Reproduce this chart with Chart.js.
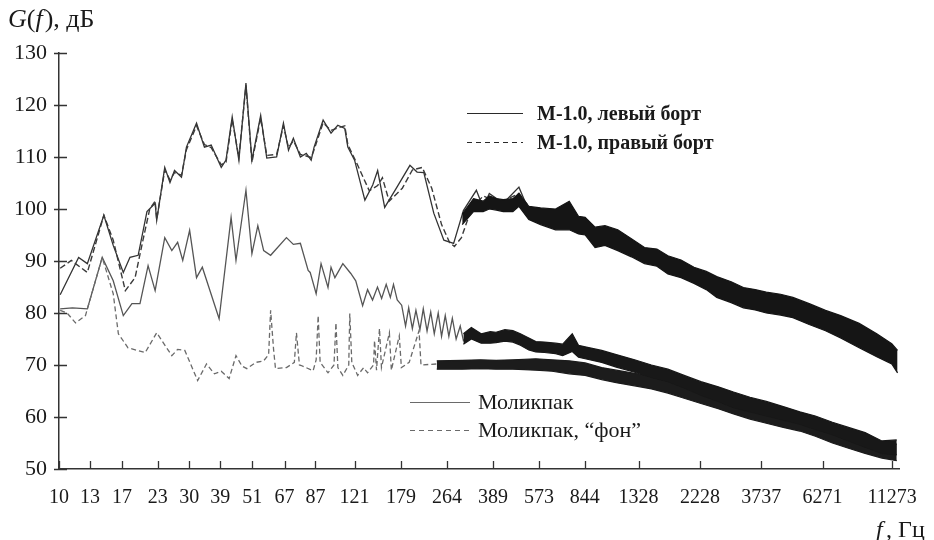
<!DOCTYPE html>
<html>
<head>
<meta charset="utf-8">
<script src="https://cdn.jsdelivr.net/npm/chart.js@4.4.0/dist/chart.umd.min.js"></script>
<style>
  html, body { margin: 0; padding: 0; background: #fff; }
  #wrap { width: 934px; height: 540px; }
</style>
</head>
<body>
<div id="wrap"><canvas id="spectrum" width="934" height="540"></canvas></div>
<script>
    // Frequency ticks (Hz) and level ticks (dB)
    const xTickValues = [10, 13, 17, 23, 30, 39, 51, 67, 87, 121, 179, 264, 389, 573, 844, 1328, 2228, 3737, 6271, 11273];
    const yTickValues = [50, 60, 70, 80, 90, 100, 110, 120, 130];

    // М-1.0, левый борт (low frequency part)
    const m10LeftFreq = [10.1, 11.8, 12.7, 14.6, 15.8, 17.2, 18.2, 19.5, 21.0, 22.5, 22.8, 24.4, 25.5, 26.5, 28.1, 29.3, 31.9, 34.1, 36.1, 39.3,
        40.9, 43.1, 45.6, 48.4, 50.9, 54.8, 57.7, 62.7, 66.4, 69.3, 72.2, 76.6, 80.5, 83.9, 86.0, 92.8, 99.2, 105, 111.4, 114.3,
        121, 132, 141, 147, 156, 173, 193, 205, 217, 236, 257, 279, 303, 338, 358, 377, 424, 484, 526, 581];
    const m10LeftDb = [83.5, 90.7, 89.5, 98.8, 93.0, 87.8, 90.7, 91.1, 99.5, 101.1, 97.8, 108.0, 105.1, 107.4, 106.1, 111.9, 116.5, 111.9, 112.3, 108.0,
        109.4, 117.7, 109.4, 124.2, 109.4, 118.0, 109.8, 110.0, 116.5, 111.3, 113.6, 110.0, 110.7, 109.4, 111.9, 117.1, 114.6, 116.1, 115.5, 111.9,
        109.4, 101.7, 104.6, 107.4, 100.3, 104.2, 108.4, 107.1, 107.0, 99.2, 94.0, 93.4, 99.7, 103.6, 100.3, 103.0, 101.1, 104.2, 99.7, 99.3];

    // М-1.0, правый борт (low frequency part)
    const m10RightFreq = [10.1, 11.1, 12.7, 14.6, 15.8, 17.5, 19.0, 20.3, 21.5, 22.5, 22.8, 24.4, 25.5, 26.5, 28.1, 29.3, 31.9, 34.1, 36.1, 39.3,
        40.9, 43.1, 45.6, 48.4, 50.9, 54.8, 57.7, 62.7, 66.4, 69.3, 72.2, 76.6, 80.5, 83.9, 86.0, 92.8, 99.2, 105, 111.4, 114.3,
        124, 137, 147, 153, 162, 181, 197, 214, 232, 252, 270, 281, 298, 324, 358, 377, 424, 484, 526, 581];
    const m10RightDb = [88.6, 90.1, 87.8, 98.8, 94.0, 84.3, 86.8, 94.0, 100.0, 101.5, 98.0, 107.5, 105.6, 107.0, 106.5, 111.4, 116.0, 112.4, 111.8, 108.5,
        109.0, 117.2, 109.9, 123.8, 109.0, 117.5, 110.3, 110.5, 116.0, 111.8, 113.1, 110.5, 110.2, 109.9, 111.4, 116.6, 115.1, 115.6, 116.0, 112.4,
        108.5, 103.5, 104.5, 106.0, 101.5, 104.0, 107.5, 108.0, 104.0, 97.0, 93.5, 92.8, 94.5, 100.0, 102.5, 102.0, 101.5, 103.0, 100.5, 99.8];

    // М-1.0 above ~300 Hz: noisy band (upper / lower edge)
    const m10BandFreq = [300, 330, 358, 377, 400, 424, 460, 484, 526, 581, 659, 740, 800, 846, 920, 1000, 1114, 1250, 1396, 1550,
        1700, 1900, 2119, 2350, 2568, 2900, 3215, 3550, 3900, 4400, 4880, 5600, 6427, 7300, 8535, 9900, 11236, 11800];
    const m10BandTop = [99.0, 102.0, 101.5, 102.5, 102.0, 101.8, 102.0, 103.0, 100.5, 100.2, 100.0, 101.5, 98.6, 98.4, 96.5, 96.8, 96.0, 94.3, 92.6, 92.3,
        91.0, 90.2, 88.8, 88.0, 87.0, 86.0, 84.9, 84.5, 84.0, 83.6, 83.0, 81.8, 80.5, 79.5, 78.0, 76.0, 74.1, 72.8];
    const m10BandLow = [97.0, 99.5, 99.5, 100.0, 99.8, 99.5, 99.5, 100.5, 98.0, 97.0, 96.0, 96.0, 95.2, 95.0, 92.6, 93.0, 92.0, 90.8, 89.5, 89.0,
        87.5, 86.8, 85.7, 84.5, 83.0, 82.0, 81.0, 80.6, 80.0, 79.6, 79.1, 77.8, 76.6, 75.2, 73.3, 71.6, 70.2, 68.5];

    // Моликпак
    const molFreq = [10.1, 11.2, 12.7, 14.4, 15.8, 17.2, 18.5, 19.8, 21.2, 22.5, 24.4, 25.9, 27.2, 28.4, 30.1, 31.9, 33.5, 38.6, 42.7, 44.5,
        48.4, 50.9, 53.5, 56.2, 59.6, 68.1, 72.2, 76.6, 81.8, 83.2, 87.5, 91.2, 96.7, 99.2, 102.5, 109.6, 117.2, 122.2, 129.5, 135,
        140.8, 146.8, 152, 158, 163.6, 168, 173.4, 180, 186, 191, 197, 203, 210, 216, 223, 230, 237, 245, 252, 260,
        268, 276, 285, 295, 303, 324];
    const molDb = [80.8, 81.0, 80.8, 90.7, 86.2, 79.5, 81.8, 81.8, 89.1, 84.3, 94.5, 92.0, 93.6, 90.1, 95.9, 86.8, 88.8, 78.9, 98.4, 90.1,
        103.6, 91.4, 96.8, 92.0, 91.1, 94.5, 93.2, 93.4, 88.2, 87.8, 83.7, 89.5, 84.9, 88.8, 86.8, 89.5, 87.6, 86.2, 81.4, 84.5,
        82.5, 85.0, 82.8, 85.5, 83.0, 85.5, 82.5, 81.5, 77.5, 81.0, 77.0, 80.5, 76.8, 80.8, 76.5, 80.2, 76.0, 80.0, 75.5, 79.5,
        75.5, 79.0, 75.0, 77.5, 74.7, 76.5];
    const molBandFreq = [303, 324, 352, 380, 399, 430, 460, 490, 526, 558, 600, 659, 700, 759, 800, 846, 973, 1100, 1284, 1480,
        1700, 1950, 2247, 2600, 2958, 3400, 3900, 4500, 5174, 5900, 6812, 7800, 8974, 10340, 11720];
    const molBandTop = [76.0, 77.2, 76.0, 76.4, 76.3, 76.8, 76.6, 76.0, 75.2, 74.5, 74.4, 74.2, 74.0, 76.0, 73.8, 73.5, 72.8, 72.0, 71.0, 70.0,
        69.2, 68.0, 66.8, 65.8, 64.8, 63.8, 63.0, 62.0, 61.0, 60.2, 59.0, 58.0, 57.0, 55.4, 55.6];
    const molBandLow = [74.0, 75.0, 74.2, 74.2, 74.3, 74.6, 74.4, 73.8, 72.9, 72.5, 72.4, 72.2, 71.8, 72.6, 71.5, 71.2, 70.5, 69.6, 68.6, 67.6,
        66.8, 65.6, 64.2, 63.0, 61.8, 61.0, 60.2, 59.4, 58.6, 57.6, 56.6, 55.4, 54.2, 53.0, 52.7];

    // Моликпак, "фон"
    const fonFreq = [10.1, 10.7, 11.5, 12.5, 14.4, 15.8, 16.5, 17.9, 20.7, 22.8, 25.9, 27.2, 28.9, 32.2, 34.7, 37.1, 39.3, 42.0, 44.5, 46.8,
        48.8, 52.6, 56.2, 58.6, 59.6, 61.1, 62.1, 68.1, 72.8, 74.1, 76.0, 77.2, 85.3, 87.5, 89.0, 90.5, 96.7, 101.7, 103.4, 105.1,
        109.6, 115.2, 116.2, 118.2, 124.2, 130.6, 135, 142, 143.2, 145.6, 149.3, 151.8, 162.3, 165, 176.4, 179.6, 191.8, 208.4, 211.9, 242];
    const fonDb = [80.5, 80.0, 78.1, 79.5, 90.7, 83.7, 76.0, 73.3, 72.4, 76.2, 71.8, 73.0, 72.8, 67.0, 70.2, 68.3, 68.8, 67.4, 71.8, 69.8,
        69.3, 70.5, 70.8, 72.0, 80.5, 73.0, 69.3, 69.5, 70.5, 76.2, 70.0, 69.9, 68.9, 71.0, 79.5, 70.5, 68.5, 70.0, 78.1, 69.5,
        68.0, 70.0, 79.9, 70.5, 68.0, 69.5, 68.5, 70.0, 74.7, 69.0, 77.0, 69.5, 76.2, 69.0, 75.6, 69.5, 70.5, 76.6, 70.0, 70.2];
    const fonBandFreq = [242, 300, 350, 399, 460, 558, 640, 740, 846, 973, 1100, 1284, 1480, 1700, 1950, 2247, 2600, 2958, 3400, 3900,
        4500, 5174, 5900, 6812, 7800, 8974, 10340, 11720];
    const fonBandTop = [70.8, 70.9, 71.0, 70.9, 71.0, 71.2, 71.0, 70.8, 70.4, 69.5, 69.0, 68.4, 67.8, 67.0, 66.4, 65.6, 64.6, 63.6, 62.6, 61.6,
        60.8, 60.0, 59.0, 58.0, 57.0, 56.0, 55.0, 54.8];
    const fonBandLow = [69.2, 69.2, 69.3, 69.2, 69.2, 69.0, 68.8, 68.3, 68.0, 67.2, 66.6, 66.0, 65.4, 64.6, 63.6, 62.6, 61.6, 60.6, 59.6, 58.8,
        58.0, 57.3, 56.3, 55.0, 54.0, 53.0, 52.1, 51.6];

    const SERIF = '"Liberation Serif", "Times New Roman", serif';
    const pts = (fs, vs) => fs.map((f, i) => ({ x: f, y: vs[i] }));

    function lineSet(fs, vs, color, width, dash) {
        return {
            data: pts(fs, vs),
            borderColor: color,
            borderWidth: width,
            borderDash: dash || [],
            fill: false
        };
    }

    function bandSet(fs, top, low, color) {
        return [
            { data: pts(fs, top), borderColor: color, backgroundColor: color, borderWidth: 1.2, fill: '+1' },
            { data: pts(fs, low), borderColor: color, borderWidth: 1.2, fill: false }
        ];
    }

    // axis ticks, axis titles and legend drawn on top of the plot
    const decorations = {
        id: 'decorations',
        afterDraw(chart) {
            const ctx = chart.ctx;
            const xs = chart.scales.x, ys = chart.scales.y;
            const area = chart.chartArea;
            ctx.save();
            ctx.strokeStyle = '#333';
            ctx.lineWidth = 1.3;
            ctx.beginPath();
            xTickValues.forEach(v => {
                const px = Math.round(xs.getPixelForValue(v)) + 0.5;
                ctx.moveTo(px, area.bottom);
                ctx.lineTo(px, area.bottom - 8);
            });
            yTickValues.forEach(v => {
                const py = Math.round(ys.getPixelForValue(v)) + 0.5;
                ctx.moveTo(area.left - 5, py);
                ctx.lineTo(area.left + 8, py);
            });
            ctx.stroke();

            ctx.fillStyle = '#1a1a1a';
            ctx.textBaseline = 'alphabetic';
            // G(f), дБ
            let x = 8;
            const parts = [['italic', 'G'], ['normal', '('], ['italic', 'f'], ['normal', '), дБ']];
            parts.forEach(([style, t]) => {
                ctx.font = style + ' 26px ' + SERIF;
                ctx.fillText(t, x, 27);
                x += ctx.measureText(t).width + (t === 'f' ? 2 : 0);
            });
            // f, Гц
            ctx.font = 'italic 24px ' + SERIF;
            ctx.fillText('f', 876, 537);
            ctx.font = '24px ' + SERIF;
            ctx.fillText(', Гц', 886, 537);

            // legend
            const legend = [
                { y: 113, x0: 467, x1: 523, tx: 537, color: '#2a2a2a', dash: [], text: 'М-1.0, левый борт', font: 'bold 20px ' },
                { y: 142, x0: 467, x1: 523, tx: 537, color: '#2a2a2a', dash: [5, 4], text: 'М-1.0, правый борт', font: 'bold 20px ' },
                { y: 402, x0: 410, x1: 470, tx: 478, color: '#6a6a6a', dash: [], text: 'Моликпак', font: '22px ' },
                { y: 430, x0: 410, x1: 470, tx: 478, color: '#6a6a6a', dash: [5, 4], text: 'Моликпак, “фон”', font: '22px ' }
            ];
            legend.forEach(l => {
                ctx.strokeStyle = l.color;
                ctx.lineWidth = 1.2;
                ctx.setLineDash(l.dash);
                ctx.beginPath();
                ctx.moveTo(l.x0, l.y + 0.5);
                ctx.lineTo(l.x1, l.y + 0.5);
                ctx.stroke();
                ctx.setLineDash([]);
                ctx.font = l.font + SERIF;
                ctx.fillStyle = '#1a1a1a';
                ctx.fillText(l.text, l.tx, l.y + 7);
            });
            ctx.restore();
        }
    };

    const datasets = [
        ...bandSet(m10BandFreq, m10BandTop, m10BandLow, '#151515'),
        ...bandSet(molBandFreq, molBandTop, molBandLow, '#181818'),
        ...bandSet(fonBandFreq, fonBandTop, fonBandLow, '#1c1c1c'),
        lineSet(fonFreq, fonDb, '#6a6a6a', 1.3, [5, 3]),
        lineSet(molFreq, molDb, '#555', 1.3),
        lineSet(m10RightFreq, m10RightDb, '#3a3a3a', 1.4, [6, 3]),
        lineSet(m10LeftFreq, m10LeftDb, '#333', 1.3)
    ];

    new Chart(document.getElementById('spectrum').getContext('2d'), {
        type: 'line',
        data: { datasets: datasets },
        options: {
            responsive: false,
            animation: false,
            devicePixelRatio: 1,
            layout: { padding: { top: 53, right: 26, left: 0, bottom: 0 } },
            elements: { point: { radius: 0 }, line: { tension: 0 } },
            plugins: { legend: { display: false }, tooltip: { enabled: false } },
            scales: {
                x: {
                    type: 'logarithmic',
                    min: 10,
                    max: 12000,
                    grid: { display: false, drawTicks: false },
                    border: { display: true, color: '#333', width: 1.5 },
                    ticks: {
                        autoSkip: false,
                        maxRotation: 0,
                        padding: 17,
                        color: '#1a1a1a',
                        font: { family: SERIF, size: 20 },
                        callback: v => String(v)
                    },
                    afterBuildTicks: s => { s.ticks = xTickValues.map(v => ({ value: v })); },
                    afterFit: s => { s.height = 71; }
                },
                y: {
                    min: 50,
                    max: 130,
                    grid: { display: false, drawTicks: false },
                    border: { display: true, color: '#333', width: 1.5 },
                    ticks: {
                        stepSize: 10,
                        padding: 12,
                        color: '#1a1a1a',
                        font: { family: SERIF, size: 22 }
                    },
                    afterFit: s => { s.width = 59; }
                }
            }
        },
        plugins: [decorations]
    });
</script>
</body>
</html>
